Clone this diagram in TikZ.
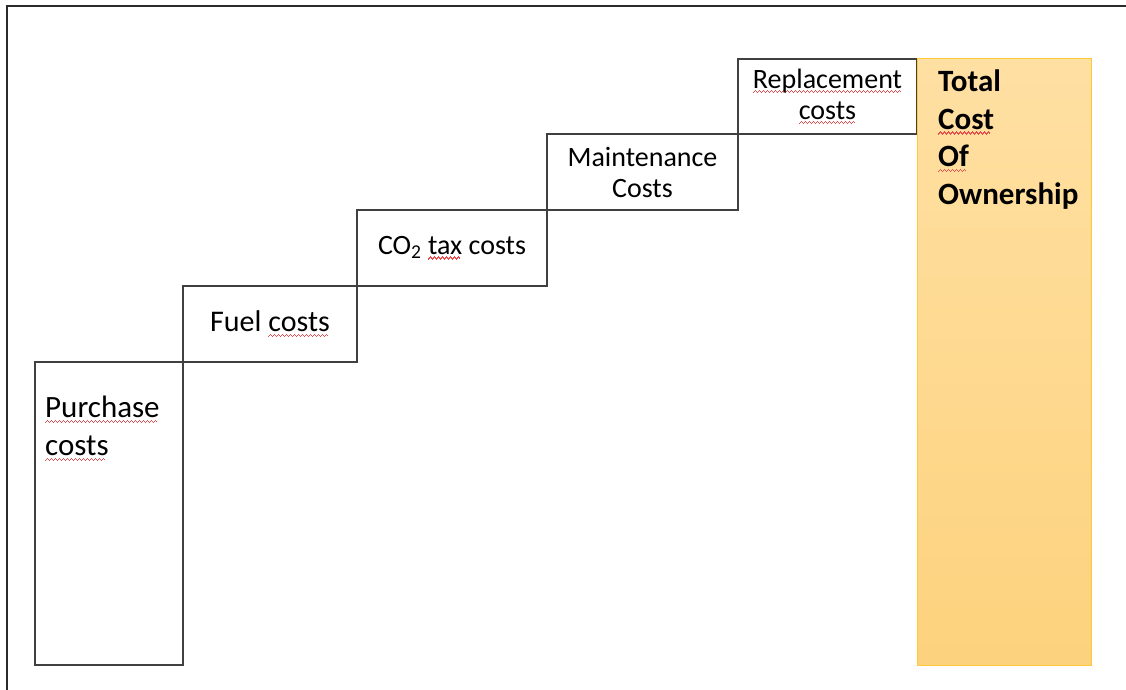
\documentclass[tikz,border=0pt]{standalone}
\usepackage{fontspec}
\setmainfont{Carlito}
\usetikzlibrary{positioning}

\definecolor{framegray}{HTML}{2B2B2B}
\definecolor{boxgray}{HTML}{404040}
\definecolor{tcotop}{HTML}{FFE0A3}
\definecolor{tcobottom}{HTML}{FDD27D}
\definecolor{tcoline}{HTML}{FFCA3A}
\definecolor{spellred}{HTML}{E84C4C}

% red wavy underline of the spell checker
\newsavebox{\spellbox}
\newcommand{\wavebit}{\hbox{\rule[-5.2pt]{1pt}{1.3pt}\rule[-4.2pt]{1pt}{1.3pt}\rule[-3.2pt]{1pt}{1.3pt}\rule[-4.2pt]{1pt}{1.3pt}}}
\newcommand{\spell}[1]{\sbox{\spellbox}{#1}\rlap{\textcolor{spellred}{\leaders\wavebit\hskip\wd\spellbox}}\usebox{\spellbox}}

\begin{document}
\begin{tikzpicture}[
    x=1pt, y=-1pt,
    stepbox/.style={draw=boxgray, line width=1.2pt, inner sep=0pt, outer sep=0pt,
        align=center, font=\fontsize{28}{31}\selectfont},
    tcobox/.style={draw=tcoline, line width=1pt, inner sep=0pt, outer sep=0pt,
        top color=tcotop, bottom color=tcobottom}
]
\useasboundingbox (0,0) rectangle (1126,690);
\draw[framegray, line width=2pt] (6.5,700) -- (6.5,6.5) -- (1140,6.5);

\node[stepbox, anchor=north west, minimum width=148pt, minimum height=303pt] (purchase) at (35,362) {};
\node[anchor=north west, align=left, inner sep=0pt, font=\fontsize{31}{38}\selectfont] (purchasetext)
    at (45,396) {\spell{Purchase}\\\spell{costs}};

\node[stepbox, minimum width=174pt, minimum height=76pt, font=\fontsize{30}{33}\selectfont,
    above right=0pt of purchase.north east] (fuel) {Fuel \spell{costs}};

\node[stepbox, minimum width=190pt, minimum height=76pt,
    above right=0pt of fuel.north east] (cotwo) {CO\textsubscript{2} \spell{tax} costs};

\node[stepbox, minimum width=191pt, minimum height=76pt,
    above right=0pt of cotwo.north east] (maintenance) {Maintenance\\Costs};

\node[stepbox, minimum width=179pt, minimum height=75pt,
    above right=0pt of maintenance.north east] (replacement) {\spell{Replacement}\\\spell{costs}};

\node[tcobox, minimum width=174pt, minimum height=606pt,
    below right=0pt of replacement.north east] (tco) {};
\node[anchor=north west, align=left, inner sep=0pt, font=\bfseries\fontsize{31}{37.5}\selectfont] (tcotext)
    at (938,70) {Total\\\spell{Cost}\\\spell{Of}\\Ownership};

\end{tikzpicture}
\end{document}
